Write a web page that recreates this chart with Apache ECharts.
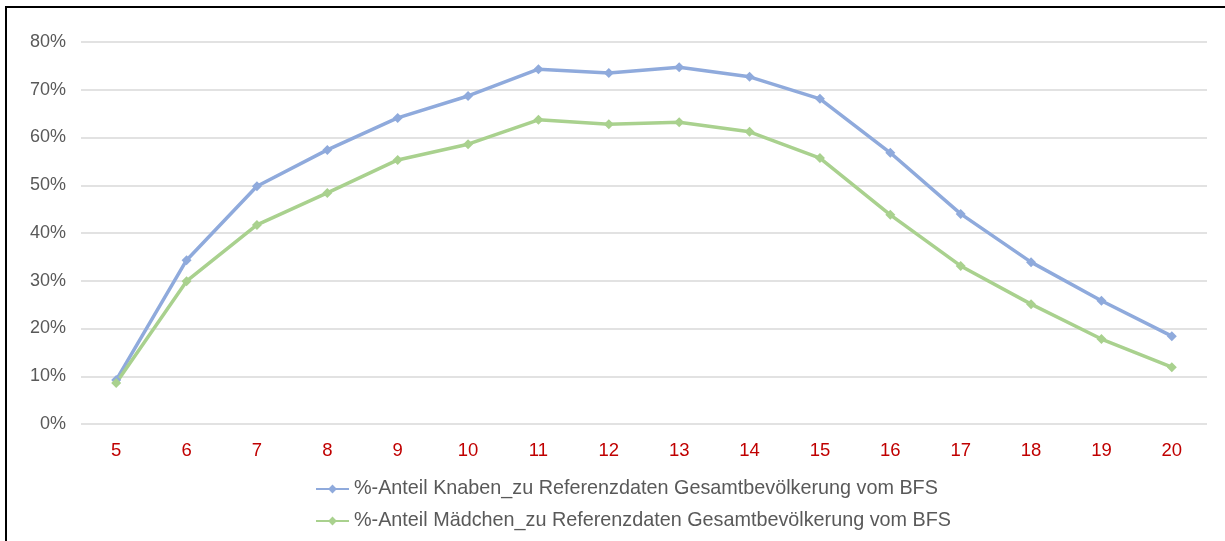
<!DOCTYPE html>
<html>
<head>
<meta charset="utf-8">
<script src="https://cdn.jsdelivr.net/npm/echarts@6/dist/echarts.min.js"></script>
<style>
  html, body { margin: 0; padding: 0; background: #fff; }
  #frame { position: absolute; left: 5px; top: 6px; width: 1230px; height: 545px;
           border-top: 2px solid #000; border-left: 2px solid #000; }
  #chart { position: absolute; left: 0; top: 0; width: 1225px; height: 541px; }
</style>
</head>
<body>
<div id="frame"></div>
<div id="chart"></div>
<script>
// ages (x axis)
var ages = ["5", "6", "7", "8", "9", "10", "11", "12", "13", "14", "15", "16", "17", "18", "19", "20"];
// percentage values
var knaben = [9.2, 34.3, 49.8, 57.4, 64.1, 68.7, 74.3, 73.5, 74.7, 72.7, 68.1, 56.8, 44.0, 33.9, 25.8, 18.4];
var maedchen = [8.6, 29.9, 41.7, 48.4, 55.3, 58.6, 63.7, 62.8, 63.2, 61.2, 55.7, 43.8, 33.1, 25.1, 17.8, 11.9];
var seriesNames = [
  "%-Anteil Knaben_zu Referenzdaten Gesamtbevölkerung vom BFS",
  "%-Anteil Mädchen_zu Referenzdaten Gesamtbevölkerung vom BFS"
];

var dom = document.getElementById("chart");
var myChart = echarts.init(dom, null, { renderer: "canvas" });

function lineSeries(name, data, color) {
  return {
    name: name,
    type: "line",
    data: data,
    symbol: "diamond",
    symbolSize: 10,
    showSymbol: true,
    lineStyle: { color: color, width: 3.5 },
    itemStyle: { color: color },
    emphasis: { disabled: true }
  };
}

var option = {
  animation: false,
  textStyle: { fontFamily: "Liberation Sans, Arial, sans-serif" },
  grid: { left: 81, right: 18, top: 42, bottom: 117, containLabel: false },
  legend: {
    orient: "vertical",
    left: 310,
    top: 474,
    itemGap: 12,
    itemWidth: 33,
    itemHeight: 11,
    textStyle: { color: "#595959", fontSize: 19.8, fontFamily: "Liberation Sans, Arial, sans-serif" },
    data: seriesNames
  },
  xAxis: {
    type: "category",
    data: ages,
    boundaryGap: true,
    axisLine: { show: false },
    axisTick: { show: false },
    axisLabel: { color: "#c00000", fontSize: 18.5, margin: 17 }
  },
  yAxis: {
    type: "value",
    min: 0,
    max: 80,
    interval: 10,
    axisLine: { show: false },
    axisTick: { show: false },
    axisLabel: {
      color: "#595959",
      fontSize: 18,
      margin: 15,
      formatter: function (v) { return v + "%"; }
    },
    splitLine: { lineStyle: { color: "#d9d9d9", width: 1.5 } }
  },
  series: [
    lineSeries(seriesNames[0], knaben, "#8faadc"),
    lineSeries(seriesNames[1], maedchen, "#a9d18e")
  ]
};

myChart.setOption(option);
window.addEventListener("resize", myChart.resize);
</script>
</body>
</html>
